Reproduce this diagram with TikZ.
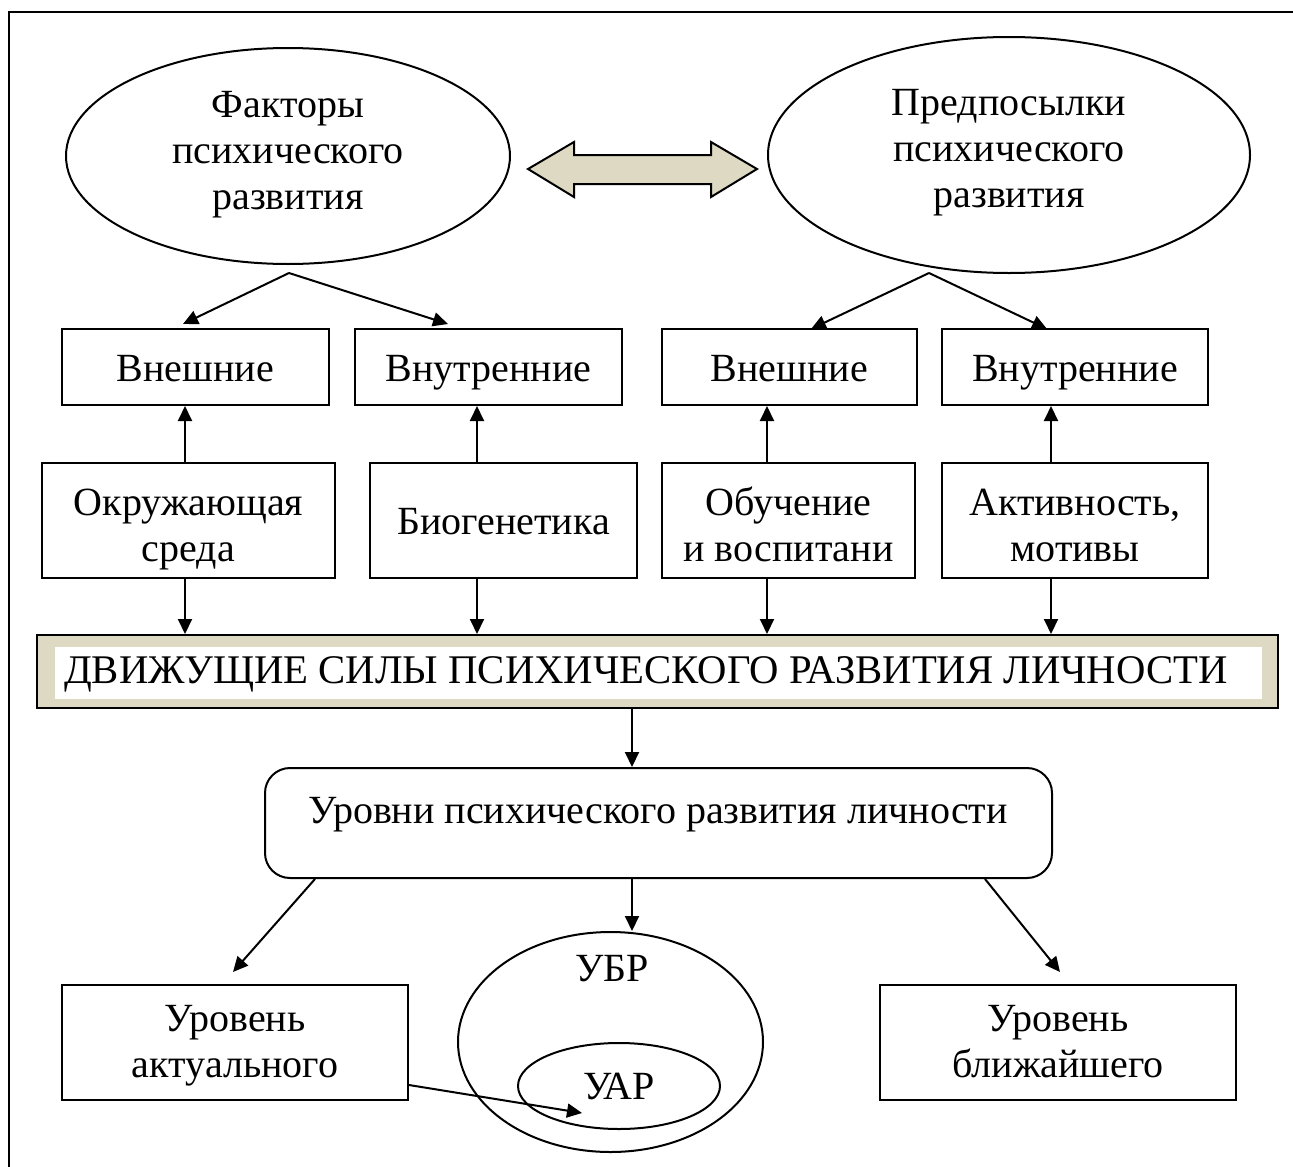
\documentclass[tikz,border=0pt]{standalone}
\usepackage{fontspec}
\setmainfont{Liberation Serif}
\usetikzlibrary{arrows.meta,shapes.geometric}
\definecolor{tan}{HTML}{DDD9C3}
\newcommand{\ls}{\strut}
\begin{document}
\begin{tikzpicture}[x=1pt,y=-1pt,
  every node/.style={font=\fontsize{40}{46}\selectfont, inner sep=0pt, align=center},
  ln/.style={line width=2pt},
  box/.style={draw, ln},
  oval/.style={draw, ln, ellipse},
  arr/.style={ln, -{Triangle[length=15pt,width=14pt]}}]
\useasboundingbox (0,0) rectangle (1293,1167);
\draw[ln] (9,1167) -- (9,12) -- (1293,12);

% ellipses
\node[oval, minimum width=444pt, minimum height=216pt] (e1) at (288,156) {};
\node (e1t) at (288,154) {\ls Факторы\\\ls психического\\\ls развития};
\node[oval, minimum width=482pt, minimum height=236pt] (e2) at (1009,155) {};
\node (e2t) at (1009,152) {\ls Предпосылки\\\ls психического\\\ls развития};

% double arrow
\draw[ln, fill=tan] (528,169) -- (574,142) -- (574,155) -- (711,155) -- (711,142) -- (757,169)
  -- (711,197) -- (711,184) -- (574,184) -- (574,197) -- cycle;

% row 1
\node[box, minimum width=267pt, minimum height=76pt] (b1) at (195.5,367) {};
\node (b1t) at (195.5,372) {\ls Внешние};
\node[box, minimum width=267pt, minimum height=76pt] (b2) at (488.5,367) {};
\node (b2t) at (488.5,372) {\ls Внутренние};
\node[box, minimum width=255pt, minimum height=76pt] (b3) at (789.5,367) {};
\node (b3t) at (789.5,372) {\ls Внешние};
\node[box, minimum width=266pt, minimum height=76pt] (b4) at (1075,367) {};
\node (b4t) at (1075,372) {\ls Внутренние};

% row 2
\node[box, minimum width=293pt, minimum height=115pt] (r1) at (188.5,520.5) {};
\node (r1t) at (188.5,529) {\ls Окружающая\\\ls среда};
\node[box, minimum width=267pt, minimum height=115pt] (r2) at (503.5,520.5) {};
\node (r2t) at (503.5,525) {\ls Биогенетика};
\node[box, minimum width=253pt, minimum height=115pt] (r3) at (788.5,520.5) {};
\node (r3t) at (788.5,529) {\ls Обучение\\\ls и воспитани};
\node[box, minimum width=266pt, minimum height=115pt] (r4) at (1075,520.5) {};
\node (r4t) at (1075,529) {\ls Активность,\\\ls мотивы};

% bar
\node[draw, ln, fill=tan, minimum width=1241pt, minimum height=73pt] (bar) at (657.5,671.5) {};
\node[fill=white, minimum width=1207pt, minimum height=52pt] (barin) at (658.5,673) {};
\node[font=\fontsize{40.7}{46}\selectfont] (bartxt) at (646,674) {\ls ДВИЖУЩИЕ СИЛЫ ПСИХИЧЕСКОГО РАЗВИТИЯ ЛИЧНОСТИ};

% levels
\node[box, rounded corners=25pt, minimum width=787pt, minimum height=110pt] (lvl) at (658.5,823) {};
\node (lvltxt) at (658,814) {\ls Уровни психического развития личности};

% bottom
\node[box, minimum width=346pt, minimum height=115pt] (a1) at (235,1042.5) {};
\node (a1t) at (235,1045) {\ls Уровень\\\ls актуального};
\node[box, minimum width=356pt, minimum height=115pt] (a3) at (1058,1042.5) {};
\node (a3t) at (1058,1045) {\ls Уровень\\\ls ближайшего};
\node[oval, minimum width=305pt, minimum height=220pt] (ubr) at (610.5,1042) {};
\node (ubrtxt) at (612,972) {\ls УБР};
\node[oval, minimum width=202pt, minimum height=86pt] (uar) at (619,1086) {};
\node (uartxt) at (619,1090) {\ls УАР};

% coordinates
\coordinate (ap1) at (289,273);
\coordinate (ap2) at (929,273);
\coordinate (t1) at (183,324);
\coordinate (t2) at (448,324);
\coordinate (t3) at (811,329);
\coordinate (t4) at (1047,329);
\coordinate (c1) at (185,0);
\coordinate (c2) at (477,0);
\coordinate (c3) at (767,0);
\coordinate (c4) at (1051,0);
\coordinate (c0) at (632,0);
\coordinate (s1) at (315,0);
\coordinate (s3) at (985,0);
\coordinate (d1) at (233,972);
\coordinate (d3) at (1060,972);
\coordinate (ut) at (582,1113);

\draw[arr] (ap1) -- (t1);
\draw[arr] (ap1) -- (t2);
\draw[arr] (ap2) -- (t3);
\draw[arr] (ap2) -- (t4);

\foreach \i in {1,2,3,4} {
  \draw[arr] (r\i.north -| c\i) -- (b\i.south -| c\i);
  \draw[arr] (r\i.south -| c\i) -- (bar.north -| c\i);
}
\draw[arr] (bar.south -| c0) -- (lvl.north -| c0);
\draw[arr] (lvl.south -| s1) -- (d1);
\draw[arr] (lvl.south -| c0) -- (ubr.north -| c0);
\draw[arr] (lvl.south -| s3) -- (d3);
\draw[arr] ([yshift=-42.5pt]a1.east) -- (ut);
\end{tikzpicture}
\end{document}
